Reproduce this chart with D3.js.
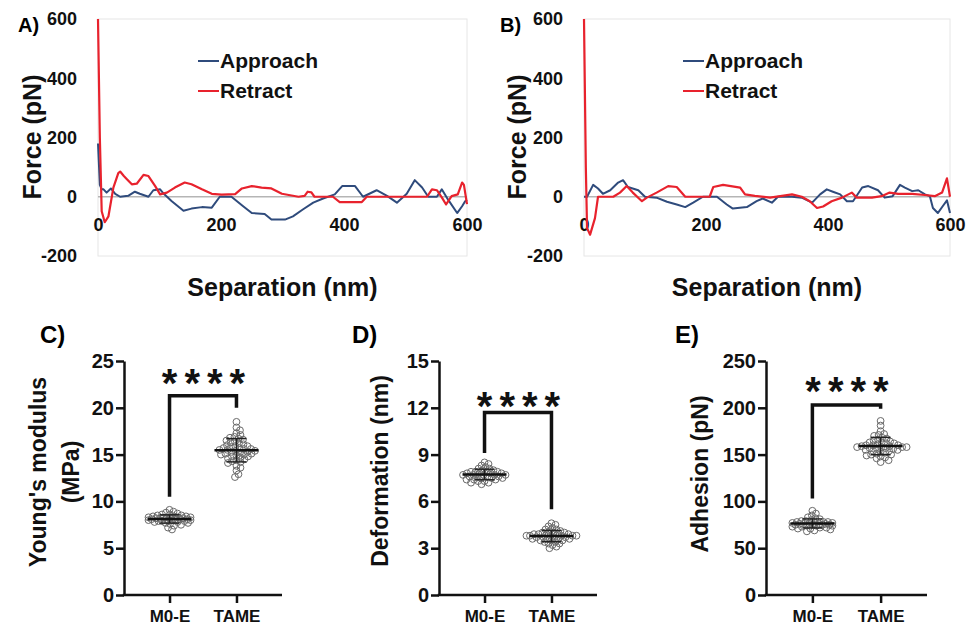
<!DOCTYPE html>
<html>
<head>
<meta charset="utf-8">
<script src="https://cdn.jsdelivr.net/npm/d3@7"></script>
<style>
body { margin: 0; background: #fff; }
svg { display: block; }
text { font-family: "Liberation Sans", Arial, sans-serif; font-weight: bold; }
</style>
</head>
<body>
<svg id="chart" width="969" height="625"></svg>
<script>
const approachA_nm = [0, 3, 6, 9, 14, 21, 28, 36, 49, 60, 68, 82, 90, 101, 107, 120, 139, 152, 169, 185, 198, 217, 236, 250, 271, 282, 304, 317, 333, 350, 366, 385, 397, 418, 431, 453, 470, 486, 502, 515, 527, 537, 551, 559, 569, 584, 592, 597, 600];
const approachA_pN = [180, 40, 25, 25, 14, 28, 10, 0, 3, 17, 10, 0, 22, 25, 10, -15, -47, -40, -35, -37, 0, 0, -32, -55, -58, -77, -77, -66, -43, -20, -6, 8, 36, 36, 0, 22, 3, -20, 10, 56, 31, 0, 0, 25, -9, -55, -32, -15, -10];
const retractA_nm = [0, 3, 6, 11, 17, 25, 33, 36, 42, 47, 55, 63, 74, 82, 93, 101, 112, 125, 141, 152, 169, 185, 201, 223, 234, 250, 266, 282, 299, 326, 336, 341, 347, 352, 382, 393, 429, 437, 535, 543, 551, 559, 566, 575, 585, 592, 595, 600];
const retractA_pN = [600, 200, -49, -86, -66, 31, 80, 85, 70, 59, 42, 44, 74, 70, 36, 8, 14, 31, 48, 42, 25, 10, 7, 9, 28, 36, 31, 28, 10, 0, 3, 17, 15, 0, 0, -18, -18, 0, 0, 25, 22, -2, -26, 2, 8, 48, 40, -25];

const approachB_nm = [0, 5, 15, 23, 31, 43, 56, 64, 72, 89, 100, 119, 136, 152, 166, 179, 195, 218, 234, 244, 267, 283, 293, 308, 318, 341, 357, 374, 387, 398, 408, 420, 431, 441, 456, 466, 482, 493, 506, 518, 526, 538, 548, 559, 567, 572, 580, 588, 595, 600];
const approachB_pN = [0, 0, 40, 28, 10, 22, 48, 56, 33, 22, 0, -3, -17, -26, -35, -20, 0, 0, -26, -40, -35, -15, -6, -20, 0, 0, -3, -20, 8, 25, 17, 8, -15, -15, 31, 36, 22, -3, 2, 40, 31, 19, 22, 8, 2, -38, -55, -32, -12, -55];
const retractB_nm = [0, 3, 5, 10, 18, 23, 48, 59, 70, 80, 95, 103, 119, 138, 152, 166, 206, 212, 228, 256, 264, 280, 305, 341, 357, 370, 382, 392, 406, 423, 439, 447, 472, 488, 501, 515, 538, 559, 575, 587, 595, 600];
const retractB_pN = [600, 100, -106, -128, -72, 0, 0, 14, 36, 14, -15, -3, 14, 36, 33, 0, 0, 33, 40, 31, 8, 3, -3, 8, 0, -15, -38, -33, -15, -3, 14, -3, -3, 2, 14, 10, 10, 6, 2, 14, 62, 0];

const forceTicks = [-200, 0, 200, 400, 600];
const sepTicks = [0, 200, 400, 600];
const seriesNames = ["Approach", "Retract"];

// scatter panels C, D, E
const groups = ["M0-E", "TAME"];
const youngM0E = [8.2, 8.0, 8.5, 7.8, 8.3, 8.1, 7.6, 8.9, 8.4, 7.9, 8.2, 8.6, 7.4, 8.0, 8.3, 8.7, 7.7, 8.1, 9.1, 8.2, 7.2, 8.4, 8.0, 7.9, 8.5, 8.3, 7.5, 8.1, 8.8, 7.8, 8.2, 7.0, 8.4, 8.0, 8.6, 7.9, 8.3, 7.7, 8.1, 8.2];
const youngTAME = [15.4, 16.2, 14.8, 15.9, 17.1, 14.2, 15.6, 16.5, 13.8, 15.1, 18.5, 15.3, 16.8, 14.5, 15.7, 12.6, 16.0, 14.9, 15.5, 17.6, 13.3, 15.2, 16.4, 14.7, 15.8, 16.6, 14.1, 15.0, 17.9, 15.4, 13.6, 16.1, 14.6, 15.6, 16.9, 15.3, 14.3, 15.9, 16.3, 14.8, 15.1, 12.9, 15.7, 16.7, 14.4, 15.5, 17.3, 15.0];
const deformM0E = [7.7, 7.5, 7.9, 8.1, 7.3, 7.6, 7.8, 8.4, 7.2, 7.7, 7.9, 7.4, 8.0, 7.6, 8.5, 7.8, 7.1, 7.5, 7.7, 8.2, 7.9, 7.3, 7.6, 8.0, 7.8, 7.4, 7.7, 8.3, 7.5, 7.9, 7.2, 7.6, 7.8, 8.1, 7.7, 7.4];
const deformTAME = [3.8, 3.6, 4.0, 4.3, 3.4, 3.7, 3.9, 4.6, 3.2, 3.8, 4.1, 3.5, 3.9, 3.6, 4.4, 3.0, 3.7, 4.0, 3.3, 3.8, 4.2, 3.6, 3.9, 3.5, 3.8, 4.1, 3.4, 3.7, 4.5, 3.1, 3.8, 3.6, 4.0, 3.9, 3.7, 3.5, 4.2, 3.8, 3.3, 3.9];
const adhesM0E = [76, 74, 78, 72, 80, 75, 77, 70, 82, 76, 73, 79, 85, 71, 76, 74, 90, 77, 69, 75, 81, 73, 78, 76, 72, 68, 79, 75, 77, 83, 74, 76, 71, 78, 75, 87];
const adhesTAME = [158, 162, 154, 166, 150, 160, 171, 146, 157, 163, 152, 168, 159, 142, 155, 175, 161, 149, 158, 165, 153, 186, 160, 147, 156, 170, 151, 163, 158, 144, 159, 167, 154, 181, 157, 162, 150, 164, 156, 160, 148, 172, 155, 158];
const youngTicks = [0, 5, 10, 15, 20, 25];
const deformTicks = [0, 3, 6, 9, 12, 15];
const adhesTicks = [0, 50, 100, 150, 200, 250];

const blue = "#2f4b7c", red = "#e8222d";
const svg = d3.select("#chart");
svg.append("rect").attr("width", 969).attr("height", 625).attr("fill", "#fff");

function forcePanel(p) {
    const x = d3.scaleLinear().domain([0, 600]).range([p.left, p.right]);
    const y = d3.scaleLinear().domain([-200, 600]).range([256, 19]);
    const g = svg.append("g");

    g.append("rect")
        .attr("x", p.left).attr("y", y(600))
        .attr("width", p.right - p.left).attr("height", y(-200) - y(600))
        .attr("fill", "none").attr("stroke", "#e6e6e6");
    g.append("line")
        .attr("x1", p.left).attr("x2", p.right)
        .attr("y1", y(0)).attr("y2", y(0))
        .attr("stroke", "#b5b5b5").attr("stroke-width", 1.5);

    const yAx = g.append("g").attr("transform", `translate(${p.left},0)`)
        .call(d3.axisLeft(y).tickValues(forceTicks).tickFormat(d => String(d)).tickSize(0).tickPadding(21));
    const xAx = g.append("g").attr("transform", `translate(0,${y(0)})`)
        .call(d3.axisBottom(x).tickValues(sepTicks).tickFormat(d => String(d)).tickSize(0).tickPadding(21));
    [yAx, xAx].forEach(a => {
        a.select(".domain").remove();
        a.attr("font-family", null).attr("font-size", 18);
        a.selectAll("text").attr("fill", "#111");
    });

    const line = d3.line().x(d => x(d[0])).y(d => y(d[1]));
    g.append("path").datum(d3.zip(p.appNm, p.appPn)).attr("d", line)
        .attr("fill", "none").attr("stroke", blue).attr("stroke-width", 2).attr("stroke-linejoin", "round");
    g.append("path").datum(d3.zip(p.retNm, p.retPn)).attr("d", line)
        .attr("fill", "none").attr("stroke", red).attr("stroke-width", 2.2).attr("stroke-linejoin", "round");

    // legend
    seriesNames.forEach((name, i) => {
        const ly = 61 + i * 30;
        g.append("line").attr("x1", p.legendX).attr("x2", p.legendX + 21)
            .attr("y1", ly).attr("y2", ly)
            .attr("stroke", i ? red : blue).attr("stroke-width", 2);
        g.append("text").attr("x", p.legendX + 22).attr("y", ly + 7)
            .attr("font-size", 21).attr("fill", "#111").text(name);
    });

    g.append("text").attr("x", p.labelX).attr("y", 32).attr("font-size", 20).text(p.label);
    g.append("text").attr("transform", `translate(${p.yTitleX},137) rotate(-90)`)
        .attr("text-anchor", "middle").attr("font-size", 25).attr("fill", "#111").text("Force (pN)");
    g.append("text").attr("x", (p.left + p.right) / 2).attr("y", 296)
        .attr("text-anchor", "middle").attr("font-size", 25).attr("fill", "#111").text("Separation (nm)");
}

// spread points sideways, keeping them inside +/- maxOff of the group centre
function swarm(vals, y, cx, gap, maxOff) {
    const pts = vals.map(v => ({ v, y: y(v) })).sort((a, b) => a.y - b.y);
    const offs = [0];
    for (let k = 0.5; k <= maxOff; k += 0.5) offs.push(k, -k);
    const placed = [];
    pts.forEach(p => {
        let best = 0, bestD = -1;
        for (const o of offs) {
            const d = placed.length ? d3.min(placed, q => Math.hypot(q.x - cx - o, q.y - p.y)) : Infinity;
            if (d >= gap) { best = o; bestD = d; break; }
            if (d > bestD) { bestD = d; best = o; }
        }
        p.x = cx + best;
        placed.push(p);
    });
    return pts;
}

function dotPanel(p) {
    const x = d3.scalePoint().domain(groups).range([p.left, p.right]).padding(0.68);
    const y = d3.scaleLinear().domain([0, p.ticks[p.ticks.length - 1]]).range([595, 361]);
    const g = svg.append("g");

    const yAx = g.append("g").attr("transform", `translate(${p.left},0)`)
        .call(d3.axisLeft(y).tickValues(p.ticks).tickSize(8).tickSizeOuter(0).tickPadding(2));
    const xAx = g.append("g").attr("transform", "translate(0,595)")
        .call(d3.axisBottom(x).tickSize(8).tickSizeOuter(0).tickPadding(7));
    yAx.attr("font-family", null).attr("font-size", 20);
    xAx.attr("font-family", null).attr("font-size", 17);
    [yAx, xAx].forEach(a => {
        a.selectAll("path, line").attr("stroke", "#111").attr("stroke-width", 2.5);
        a.selectAll("text").attr("fill", "#111");
    });
    xAx.select(".domain").attr("d", `M${p.left - 1.25},0H${p.right}`);

    [p.a, p.b].forEach((vals, i) => {
        const cx = x(groups[i]);
        const pts = swarm(vals, y, cx, 4.2, p.spread[i]);
        g.selectAll(null).data(pts).join("circle")
            .attr("cx", d => d.x).attr("cy", d => d.y).attr("r", 3.4)
            .attr("fill", "none").attr("stroke", "#6a6a6a").attr("stroke-width", 1);
        const m = d3.mean(vals), sd = d3.deviation(vals);
        g.append("line").attr("x1", cx).attr("x2", cx).attr("y1", y(m - sd)).attr("y2", y(m + sd))
            .attr("stroke", "#222").attr("stroke-width", 1.5);
        [m - sd, m + sd].forEach(v => g.append("line")
            .attr("x1", cx - 10).attr("x2", cx + 10).attr("y1", y(v)).attr("y2", y(v))
            .attr("stroke", "#222").attr("stroke-width", 1.5));
        g.append("line").attr("x1", cx - 22).attr("x2", cx + 22).attr("y1", y(m)).attr("y2", y(m))
            .attr("stroke", "#111").attr("stroke-width", 2.5);
    });

    const [b0, b1, b2] = p.bracket;
    g.append("path")
        .attr("d", `M${x(groups[0])},${y(b0)}V${y(b1)}H${x(groups[1])}V${y(b2)}`)
        .attr("fill", "none").attr("stroke", "#111").attr("stroke-width", 3.5);
    g.append("text").attr("x", (x(groups[0]) + x(groups[1])) / 2 + 4).attr("y", y(p.stars) + 20)
        .attr("text-anchor", "middle").attr("font-size", 40).attr("letter-spacing", 7)
        .attr("fill", "#111").text("****");

    g.append("text").attr("x", p.labelX).attr("y", 343).attr("font-size", 24).text(p.label);
    p.title.forEach((t, i) => {
        g.append("text").attr("transform", `translate(${p.titleX[i]},${p.titleY}) rotate(-90)`)
            .attr("text-anchor", "middle").attr("font-size", 23).attr("fill", "#111").text(t);
    });
}

forcePanel({ left: 98, right: 467, label: "A)", labelX: 18, yTitleX: 41, legendX: 198,
    appNm: approachA_nm, appPn: approachA_pN, retNm: retractA_nm, retPn: retractA_pN });
forcePanel({ left: 584, right: 950, label: "B)", labelX: 500, yTitleX: 526, legendX: 683,
    appNm: approachB_nm, appPn: approachB_pN, retNm: retractB_nm, retPn: retractB_pN });

dotPanel({ left: 124, right: 282, ticks: youngTicks, a: youngM0E, b: youngTAME,
    bracket: [10.5, 21.3, 20.0], stars: 23.3, label: "C)", labelX: 40, spread: [21, 23],
    title: ["Young's modulus", "(MPa)"], titleX: [46, 79], titleY: 472 });
dotPanel({ left: 439, right: 597, ticks: deformTicks, a: deformM0E, b: deformTAME,
    bracket: [9.1, 11.7, 5.5], stars: 12.5, label: "D)", labelX: 352, spread: [22, 25],
    title: ["Deformation (nm)"], titleX: [388], titleY: 471 });
dotPanel({ left: 766, right: 927, ticks: adhesTicks, a: adhesM0E, b: adhesTAME,
    bracket: [103, 203, 199], stars: 224, label: "E)", labelX: 675, spread: [20, 26],
    title: ["Adhesion (pN)"], titleX: [708], titleY: 474 });
</script>
</body>
</html>
